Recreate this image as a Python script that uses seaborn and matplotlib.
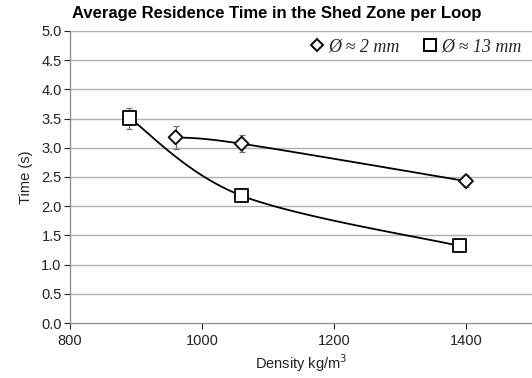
import numpy as np
import pandas as pd
import matplotlib
matplotlib.use("Agg")
import matplotlib.pyplot as plt
import seaborn as sns
from matplotlib.lines import Line2D

# Measured residence times per particle size
density_2mm = [960, 1060, 1400]
time_2mm = [3.18, 3.07, 2.43]
err_2mm = [0.20, 0.15, 0.10]

density_13mm = [890, 1060, 1390]
time_13mm = [3.51, 2.18, 1.32]
err_13mm = [0.18, 0.08, 0.06]

x_ticks = [800, 1000, 1200, 1400]
y_ticks = [0.0, 0.5, 1.0, 1.5, 2.0, 2.5, 3.0, 3.5, 4.0, 4.5, 5.0]

df = pd.concat([
    pd.DataFrame({"density": density_2mm, "time": time_2mm, "err": err_2mm, "size": "2 mm"}),
    pd.DataFrame({"density": density_13mm, "time": time_13mm, "err": err_13mm, "size": "13 mm"}),
])


def smooth_curve(xs, ys, n=40):
    """Bezier smoothing through the points (spreadsheet-style smoothed line)."""
    xs = np.asarray(xs, float)
    ys = np.asarray(ys, float)
    px, py = [], []
    for i in range(len(xs) - 1):
        x0, y0 = (xs[i - 1], ys[i - 1]) if i > 0 else (xs[i], ys[i])
        x1, y1 = xs[i], ys[i]
        x2, y2 = xs[i + 1], ys[i + 1]
        x3, y3 = (xs[i + 2], ys[i + 2]) if i + 2 < len(xs) else (x2, y2)
        c1 = (x1 + (x2 - x0) / 6, y1 + (y2 - y0) / 6)
        c2 = (x2 - (x3 - x1) / 6, y2 - (y3 - y1) / 6)
        t = np.linspace(0, 1, n)
        bx = (1 - t) ** 3 * x1 + 3 * (1 - t) ** 2 * t * c1[0] + 3 * (1 - t) * t ** 2 * c2[0] + t ** 3 * x2
        by = (1 - t) ** 3 * y1 + 3 * (1 - t) ** 2 * t * c1[1] + 3 * (1 - t) * t ** 2 * c2[1] + t ** 3 * y2
        px.extend(bx)
        py.extend(by)
    return np.array(px), np.array(py)


sns.set_theme(style="white")
plt.rcParams["font.family"] = ["Liberation Sans", "DejaVu Sans"]

fig = plt.figure(figsize=(5.32, 3.78), dpi=100)
ax = fig.add_axes([0.1316, 0.1455, 0.8684, 0.7725])

grid_c = "#b0b0b0"
for y in y_ticks[1:]:
    ax.axhline(y, color=grid_c, lw=1.0, zorder=0)

for size in ["2 mm", "13 mm"]:
    sub = df[df["size"] == size]
    sx, sy = smooth_curve(sub["density"], sub["time"])
    ax.plot(sx, sy, color="black", lw=1.3, zorder=2)
    ax.errorbar(sub["density"], sub["time"], yerr=sub["err"], fmt="none",
                ecolor="#707070", elinewidth=0.9, capsize=2.5, capthick=0.9, zorder=3)

sns.scatterplot(data=df, x="density", y="time", style="size", markers={"2 mm": "D", "13 mm": "s"},
                size="size", sizes={"2 mm": 50, "13 mm": 90}, color="white", edgecolor="#111111",
                linewidth=1.4, legend=False, zorder=4, ax=ax)

ax.set_xlim(800, 1500)
ax.set_ylim(0, 5.0)
ax.set_xticks(x_ticks)
ax.set_yticks(y_ticks)
ax.set_yticklabels([f"{v:.1f}" for v in y_ticks])
ax.tick_params(axis="both", labelsize=10.5, colors="#222222", length=4, width=0.8, direction="out",
               left=True, bottom=True, pad=2)
ax.tick_params(axis="x", pad=4)
for side in ["top", "right"]:
    ax.spines[side].set_visible(False)
for side in ["left", "bottom"]:
    ax.spines[side].set_color("#909090")
    ax.spines[side].set_linewidth(1.0)

ax.set_xlabel("Density kg/m$^{3}$", fontsize=10.5, color="#222222", labelpad=3)
ax.set_ylabel("Time (s)", fontsize=10.5, color="#222222", labelpad=6)
ax.set_title("Average Residence Time in the Shed Zone per Loop", fontsize=12,
             fontweight="bold", color="black", pad=9, x=0.448)

handles = [
    Line2D([], [], ls="none", marker="D", ms=6.5, mfc="white", mec="black", mew=1.4),
    Line2D([], [], ls="none", marker="s", ms=9, mfc="white", mec="black", mew=1.4),
]
leg = ax.legend(handles, ["Ø ≈ 2 mm", "Ø ≈ 13 mm"], ncol=2, loc="upper right",
                bbox_to_anchor=(1.0, 1.012), frameon=False, handletextpad=0.1,
                columnspacing=1.2, handlelength=1.0, borderaxespad=0.2,
                prop={"family": "Liberation Serif", "style": "italic", "size": 13})

fig.savefig("out.png", dpi=100)
